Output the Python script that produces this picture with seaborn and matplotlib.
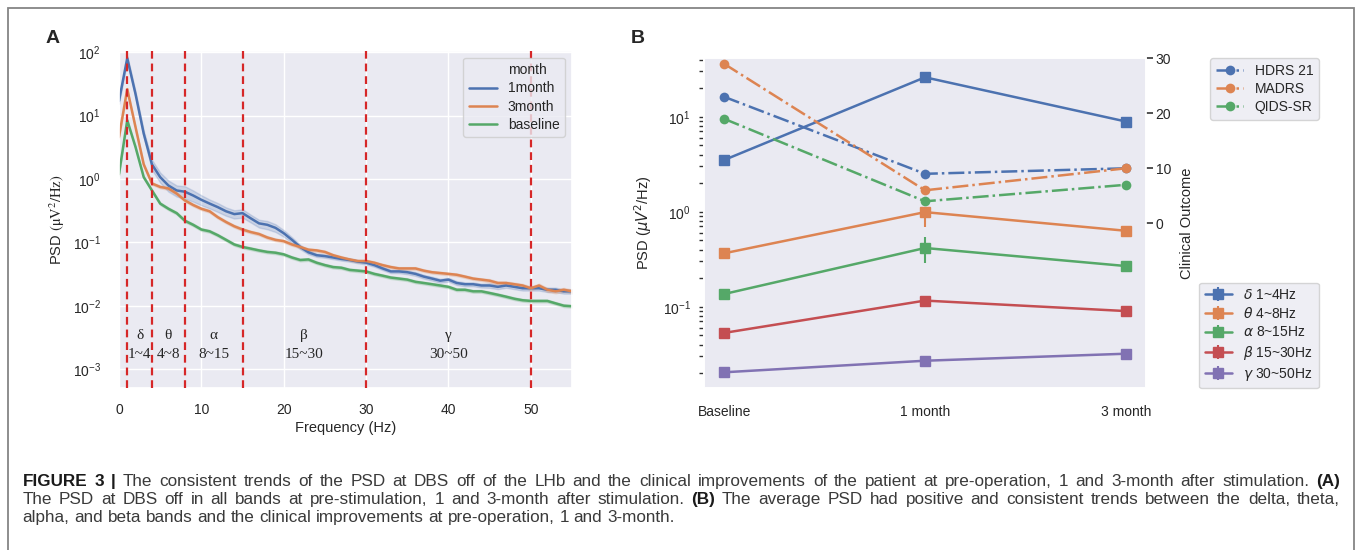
import matplotlib
matplotlib.use("Agg")
import matplotlib.pyplot as plt
from matplotlib.lines import Line2D
from matplotlib.patches import Rectangle
import numpy as np
import pandas as pd
import seaborn as sns

# ---- panel A data: PSD per frequency (Hz) ----
freq = list(range(56))
months = ["1month", "3month", "baseline"]
psd_1month = [17, 80, 22, 5.2, 1.7, 1.07, 0.79, 0.66, 0.63, 0.55, 0.47, 0.41, 0.36, 0.31,
              0.28, 0.29, 0.24, 0.20, 0.19, 0.17, 0.14, 0.11, 0.085, 0.07, 0.063, 0.061,
              0.058, 0.055, 0.053, 0.05, 0.048, 0.044, 0.039, 0.035, 0.035, 0.034, 0.032,
              0.029, 0.027, 0.025, 0.026, 0.023, 0.022, 0.022, 0.021, 0.021, 0.020, 0.021,
              0.020, 0.019, 0.019, 0.019, 0.018, 0.018, 0.017, 0.017]
psd_3month = [4.6, 26, 6.6, 1.7, 0.85, 0.75, 0.71, 0.59, 0.46, 0.39, 0.34, 0.31, 0.25, 0.21,
              0.18, 0.16, 0.146, 0.136, 0.12, 0.11, 0.105, 0.093, 0.085, 0.077, 0.075, 0.071,
              0.063, 0.058, 0.054, 0.051, 0.051, 0.048, 0.044, 0.041, 0.039, 0.039, 0.039,
              0.036, 0.034, 0.033, 0.032, 0.031, 0.029, 0.027, 0.026, 0.025, 0.023, 0.023,
              0.022, 0.021, 0.019, 0.021, 0.018, 0.017, 0.018, 0.017]
psd_baseline = [1.2, 8.4, 3.2, 1.07, 0.66, 0.41, 0.34, 0.29, 0.22, 0.19, 0.16, 0.15, 0.13, 0.11,
                0.093, 0.085, 0.08, 0.075, 0.071, 0.069, 0.065, 0.058, 0.053, 0.054, 0.048,
                0.044, 0.041, 0.040, 0.037, 0.036, 0.035, 0.032, 0.030, 0.028, 0.027, 0.026,
                0.024, 0.023, 0.022, 0.021, 0.020, 0.018, 0.018, 0.017, 0.017, 0.016, 0.015,
                0.014, 0.013, 0.0123, 0.012, 0.012, 0.012, 0.011, 0.0101, 0.0099]
# relative half width of the shaded band
spread_1month = [0.10, 0.10, 0.10, 0.12, 0.18, 0.18, 0.20, 0.20, 0.22, 0.20, 0.18, 0.16, 0.16,
                 0.15, 0.15, 0.15, 0.14, 0.14, 0.15, 0.14, 0.12, 0.10, 0.08, 0.07, 0.06, 0.06,
                 0.06, 0.06, 0.06, 0.06, 0.06, 0.06, 0.06, 0.06, 0.06, 0.07, 0.07, 0.07, 0.07,
                 0.07, 0.07, 0.07, 0.07, 0.07, 0.07, 0.08, 0.08, 0.08, 0.08, 0.08, 0.08, 0.08,
                 0.08, 0.08, 0.08, 0.08]
spread_3month = [0.05, 0.05, 0.05, 0.05, 0.05, 0.05, 0.05, 0.05, 0.05, 0.05, 0.05, 0.05, 0.05,
                 0.05, 0.05, 0.05, 0.05, 0.05, 0.05, 0.05, 0.05, 0.05, 0.05, 0.05, 0.05, 0.05,
                 0.05, 0.05, 0.05, 0.05, 0.05, 0.05, 0.05, 0.05, 0.05, 0.05, 0.05, 0.05, 0.05,
                 0.05, 0.05, 0.05, 0.05, 0.05, 0.05, 0.06, 0.06, 0.06, 0.06, 0.06, 0.07, 0.07,
                 0.07, 0.07, 0.07, 0.07]
spread_baseline = [0.05, 0.05, 0.05, 0.05, 0.05, 0.05, 0.05, 0.05, 0.05, 0.05, 0.05, 0.05, 0.05,
                   0.05, 0.05, 0.05, 0.05, 0.05, 0.05, 0.05, 0.05, 0.05, 0.05, 0.05, 0.05, 0.05,
                   0.05, 0.05, 0.05, 0.05, 0.05, 0.05, 0.05, 0.05, 0.05, 0.05, 0.05, 0.05, 0.05,
                   0.05, 0.05, 0.05, 0.05, 0.05, 0.05, 0.05, 0.05, 0.05, 0.05, 0.05, 0.05, 0.05,
                   0.05, 0.05, 0.05, 0.05]

band_edges = [1, 4, 8, 15, 30, 50]
band_greek = ["δ", "θ", "α", "β", "γ"]

# ---- panel B data ----
periods = ["Baseline", "1 month", "3 month"]
period_pos = [0, 1, 2]
band_labels = [r"$\delta$ 1~4Hz", r"$\theta$ 4~8Hz", r"$\alpha$ 8~15Hz",
               r"$\beta$ 15~30Hz", r"$\gamma$ 30~50Hz"]
band_mean = [[3.5, 26.0, 8.9], [0.365, 0.99, 0.63], [0.136, 0.415, 0.268],
             [0.053, 0.116, 0.090], [0.0204, 0.027, 0.032]]
band_low = [[3.0, 23.3, 8.3], [0.35, 0.69, 0.61], [0.13, 0.286, 0.26],
            [0.051, 0.0986, 0.087], [0.0199, 0.0265, 0.0312]]
band_high = [[3.95, 28.2, 9.4], [0.38, 1.09, 0.65], [0.142, 0.546, 0.276],
             [0.055, 0.126, 0.093], [0.0209, 0.0275, 0.0328]]
scales = ["HDRS 21", "MADRS", "QIDS-SR"]
scores = [[23, 9, 10], [29, 6, 10], [19, 4, 7]]

caption = [
    ([("FIGURE 3 |", True),
      ("The consistent trends of the PSD at DBS off of the LHb and the clinical improvements "
       "of the patient at pre-operation, 1 and 3-month after stimulation.", False),
      ("(A)", True)], True),
    ([("The PSD at DBS off in all bands at pre-stimulation, 1 and 3-month after stimulation.", False),
      ("(B)", True),
      ("The average PSD had positive and consistent trends between the delta, theta,", False)], True),
    ([("alpha, and beta bands and the clinical improvements at pre-operation, 1 and 3-month.", False)], False),
]

sns.set_theme(style="darkgrid")
plt.rcParams['font.family'] = ['Liberation Sans', 'DejaVu Sans']
pal = sns.color_palette("deep")
serif = ['Liberation Serif', 'DejaVu Serif']

W, H = 1358, 550
fig = plt.figure(figsize=(W / 100, H / 100), dpi=100)
fig.patch.set_facecolor("white")

# ================= panel A =================
axA = fig.add_axes([119 / W, 1 - 388 / H, 453 / W, (388 - 50.7) / H])
rows = []
for m, vals, spr in zip(months, [psd_1month, psd_3month, psd_baseline],
                        [spread_1month, spread_3month, spread_baseline]):
    for f, v, s in zip(freq, vals, spr):
        for k in (1 - s, 1.0, 1 + s):
            rows.append({"Frequency": f, "PSD": v * k, "month": m})
dfA = pd.DataFrame(rows)
sns.lineplot(data=dfA, x="Frequency", y="PSD", hue="month", hue_order=months,
             palette=pal[:3], estimator="median", errorbar=("pi", 100),
             linewidth=1.8, ax=axA)
axA.set_yscale("log")
axA.set_xlim(0, 55)
axA.set_ylim(5.1e-4, 105)
axA.set_xticks([0, 10, 20, 30, 40, 50])
for b in band_edges:
    axA.axvline(b, color="#d62728", ls=(0, (3.5, 2.2)), lw=1.6, zorder=4)
for g, lo, hi in zip(band_greek, band_edges[:-1], band_edges[1:]):
    mid = (lo + hi) / 2
    axA.text(mid, 10 ** -2.47, g, ha="center", va="center", fontsize=11, family=serif)
    axA.text(mid, 10 ** -2.76, f"{lo}~{hi}", ha="center", va="center", fontsize=11, family=serif)
axA.tick_params(axis="x", labelsize=10, pad=5)
axA.tick_params(axis="y", labelsize=10, pad=7)
axA.set_xlabel("Frequency (Hz)", fontsize=10.5, labelpad=3)
axA.set_ylabel(r"PSD $(\mathrm{\mu V^2/Hz})$", fontsize=10.5, math_fontfamily="stix")
h, l = axA.get_legend_handles_labels()
blank = Line2D([], [], linestyle="none")
axA.legend([blank] + h, ["month"] + l, loc="upper right", fontsize=10, labelspacing=0.3)

# ================= panel B =================
axB = fig.add_axes([704 / W, 1 - 388.3 / H, 442 / W, (388.3 - 58.3) / H])
axB.set_yscale("log")
for i, lab in enumerate(band_labels):
    mean = np.array(band_mean[i])
    err = [mean - np.array(band_low[i]), np.array(band_high[i]) - mean]
    axB.errorbar(period_pos, mean, yerr=err, color=pal[i], marker="s", ms=7,
                 lw=1.8, elinewidth=1.5, capsize=0, label=lab)
axB.set_xlim(-0.1, 2.1)
axB.set_ylim(0.01384, 41.2)
axB.set_xticks(period_pos)
axB.set_xticklabels(periods)
axB.grid(False)
axB.grid(False, which="minor")
axB.tick_params(axis="y", which="both", left=True, length=3.5, width=1.0,
                color="#333333", pad=6, labelsize=10)
axB.tick_params(axis="x", bottom=False, pad=6, labelsize=10)
axB.set_ylabel(r"PSD ($\mu V^2$/Hz)", fontsize=10.5, labelpad=6)

ax2 = axB.twinx()
for i, (name, vals) in enumerate(zip(scales, scores)):
    sns.lineplot(x=period_pos, y=vals, ax=ax2, color=pal[i], marker="o", markersize=7,
                 markeredgewidth=0, linestyle="-.", linewidth=1.8, label=name)
ax2.set_ylim(-30, 30)
ax2.set_yticks([0, 10, 20, 30])
ax2.grid(False)
ax2.tick_params(axis="y", right=True, length=5, width=1.2, color="#333333", pad=2, labelsize=10)
ax2.set_ylabel("Clinical Outcome", fontsize=10.5, labelpad=6)

axB.legend(loc="lower left", bbox_to_anchor=(1.12, 0.0), borderaxespad=0,
           fontsize=10, labelspacing=0.3)
ax2.legend(loc="upper left", bbox_to_anchor=(1.145, 1.0), borderaxespad=0,
           fontsize=10, labelspacing=0.3)

# panel letters
fig.text(52.5 / W, 1 - 38.5 / H, "A", fontsize=14, fontweight="bold", ha="center", va="center")
fig.text(638 / W, 1 - 38.5 / H, "B", fontsize=14, fontweight="bold", ha="center", va="center")

# frame around the figure
fig.patches.append(Rectangle((7.5 / W, -0.05), (1354 - 7.5) / W, 1.05 - 8 / H,
                             transform=fig.transFigure, fill=False,
                             edgecolor="#858585", lw=1.3))

# caption, justified line by line (words share a baseline)
renderer = fig.canvas.get_renderer()
cap_size = 12.3
x_left, x_right = 22.7, 1340
for (segments, justify), y_px in zip(caption, [486, 504, 522]):
    words = []
    for text, bold in segments:
        for w in text.split():
            words.append((w, bold))
    arts = [fig.text(0, 1 - y_px / H, w, fontsize=cap_size,
                     fontweight="bold" if b else "normal",
                     color="#1a1a1a" if b else "#3a3a3a", ha="left", va="baseline")
            for w, b in words]
    widths = [a.get_window_extent(renderer).width for a in arts]
    if justify:
        gap = (x_right - x_left - sum(widths)) / (len(words) - 1)
    else:
        gap = 0.278 * cap_size * 100 / 72
    x = x_left
    for a, wd in zip(arts, widths):
        a.set_x(x / W)
        x += wd + gap

fig.savefig("out.png", dpi=100)
